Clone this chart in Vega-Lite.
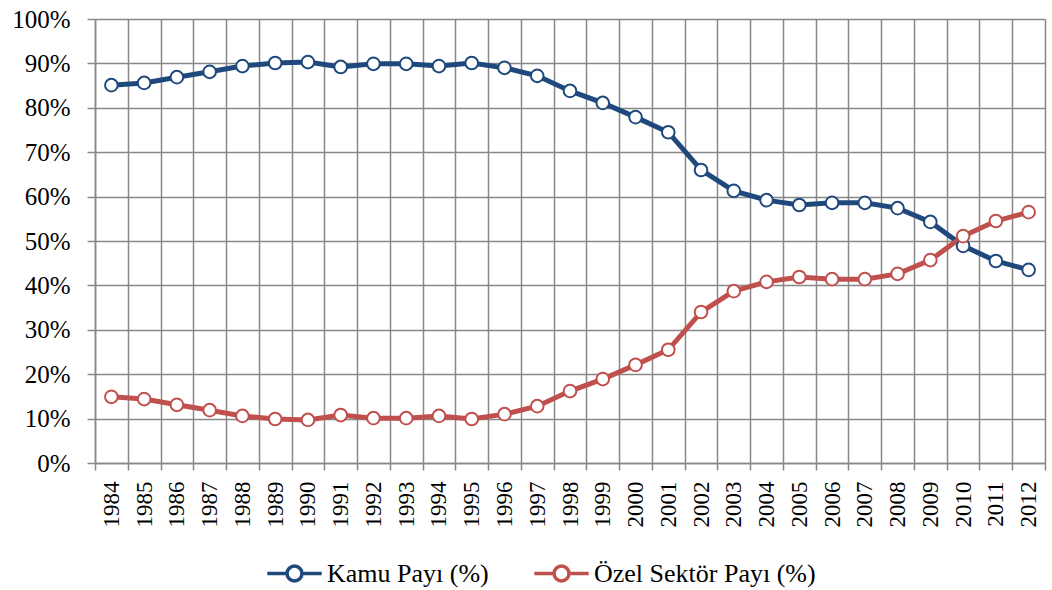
{
  "$schema": "https://vega.github.io/schema/vega-lite/v6.json",
  "autosize": {"type": "none"},
  "width": 950,
  "height": 444,
  "padding": {"left": 95, "top": 19, "right": 7, "bottom": 127},
  "background": "white",
  "config": {
    "font": "Liberation Serif, Times New Roman, serif",
    "view": {"stroke": null}
  },
  "data": {
    "values": [
      {"year": "1984", "series": "Kamu Payı (%)", "value": 85.1},
      {"year": "1985", "series": "Kamu Payı (%)", "value": 85.6},
      {"year": "1986", "series": "Kamu Payı (%)", "value": 86.9},
      {"year": "1987", "series": "Kamu Payı (%)", "value": 88.1},
      {"year": "1988", "series": "Kamu Payı (%)", "value": 89.4},
      {"year": "1989", "series": "Kamu Payı (%)", "value": 90.1},
      {"year": "1990", "series": "Kamu Payı (%)", "value": 90.3},
      {"year": "1991", "series": "Kamu Payı (%)", "value": 89.2},
      {"year": "1992", "series": "Kamu Payı (%)", "value": 89.9},
      {"year": "1993", "series": "Kamu Payı (%)", "value": 89.9},
      {"year": "1994", "series": "Kamu Payı (%)", "value": 89.4},
      {"year": "1995", "series": "Kamu Payı (%)", "value": 90.1},
      {"year": "1996", "series": "Kamu Payı (%)", "value": 89.0},
      {"year": "1997", "series": "Kamu Payı (%)", "value": 87.2},
      {"year": "1998", "series": "Kamu Payı (%)", "value": 83.8},
      {"year": "1999", "series": "Kamu Payı (%)", "value": 81.1},
      {"year": "2000", "series": "Kamu Payı (%)", "value": 77.9},
      {"year": "2001", "series": "Kamu Payı (%)", "value": 74.5},
      {"year": "2002", "series": "Kamu Payı (%)", "value": 66.0},
      {"year": "2003", "series": "Kamu Payı (%)", "value": 61.3},
      {"year": "2004", "series": "Kamu Payı (%)", "value": 59.2},
      {"year": "2005", "series": "Kamu Payı (%)", "value": 58.1},
      {"year": "2006", "series": "Kamu Payı (%)", "value": 58.6},
      {"year": "2007", "series": "Kamu Payı (%)", "value": 58.6},
      {"year": "2008", "series": "Kamu Payı (%)", "value": 57.4},
      {"year": "2009", "series": "Kamu Payı (%)", "value": 54.3},
      {"year": "2010", "series": "Kamu Payı (%)", "value": 48.9},
      {"year": "2011", "series": "Kamu Payı (%)", "value": 45.5},
      {"year": "2012", "series": "Kamu Payı (%)", "value": 43.5},
      {"year": "1984", "series": "Özel Sektör Payı (%)", "value": 14.9},
      {"year": "1985", "series": "Özel Sektör Payı (%)", "value": 14.4},
      {"year": "1986", "series": "Özel Sektör Payı (%)", "value": 13.1},
      {"year": "1987", "series": "Özel Sektör Payı (%)", "value": 11.9},
      {"year": "1988", "series": "Özel Sektör Payı (%)", "value": 10.6},
      {"year": "1989", "series": "Özel Sektör Payı (%)", "value": 9.9},
      {"year": "1990", "series": "Özel Sektör Payı (%)", "value": 9.7},
      {"year": "1991", "series": "Özel Sektör Payı (%)", "value": 10.8},
      {"year": "1992", "series": "Özel Sektör Payı (%)", "value": 10.1},
      {"year": "1993", "series": "Özel Sektör Payı (%)", "value": 10.1},
      {"year": "1994", "series": "Özel Sektör Payı (%)", "value": 10.6},
      {"year": "1995", "series": "Özel Sektör Payı (%)", "value": 9.9},
      {"year": "1996", "series": "Özel Sektör Payı (%)", "value": 11.0},
      {"year": "1997", "series": "Özel Sektör Payı (%)", "value": 12.8},
      {"year": "1998", "series": "Özel Sektör Payı (%)", "value": 16.2},
      {"year": "1999", "series": "Özel Sektör Payı (%)", "value": 18.9},
      {"year": "2000", "series": "Özel Sektör Payı (%)", "value": 22.1},
      {"year": "2001", "series": "Özel Sektör Payı (%)", "value": 25.5},
      {"year": "2002", "series": "Özel Sektör Payı (%)", "value": 34.0},
      {"year": "2003", "series": "Özel Sektör Payı (%)", "value": 38.7},
      {"year": "2004", "series": "Özel Sektör Payı (%)", "value": 40.8},
      {"year": "2005", "series": "Özel Sektör Payı (%)", "value": 41.9},
      {"year": "2006", "series": "Özel Sektör Payı (%)", "value": 41.4},
      {"year": "2007", "series": "Özel Sektör Payı (%)", "value": 41.4},
      {"year": "2008", "series": "Özel Sektör Payı (%)", "value": 42.6},
      {"year": "2009", "series": "Özel Sektör Payı (%)", "value": 45.7},
      {"year": "2010", "series": "Özel Sektör Payı (%)", "value": 51.1},
      {"year": "2011", "series": "Özel Sektör Payı (%)", "value": 54.5},
      {"year": "2012", "series": "Özel Sektör Payı (%)", "value": 56.5}
    ]
  },
  "encoding": {
    "x": {
      "field": "year",
      "type": "ordinal",
      "sort": null,
      "title": null,
      "scale": {"type": "band", "paddingInner": 0, "paddingOuter": 0},
      "axis": {
        "tickBand": "extent",
        "grid": true,
        "gridColor": "#888888",
        "gridWidth": 1.5,
        "domainColor": "#888888",
        "domainWidth": 1.5,
        "tickColor": "#888888",
        "tickWidth": 1.5,
        "tickSize": 7,
        "labelAngle": -90,
        "labelFontSize": 23,
        "labelColor": "black",
        "labelPadding": 11,
        "labelFont": "Liberation Serif, Times New Roman, serif"
      }
    },
    "y": {
      "field": "value",
      "type": "quantitative",
      "title": null,
      "scale": {"domain": [0, 100], "nice": false},
      "axis": {
        "values": [0, 10, 20, 30, 40, 50, 60, 70, 80, 90, 100],
        "labelExpr": "datum.value + '%'",
        "grid": true,
        "gridColor": "#888888",
        "gridWidth": 1.5,
        "domainColor": "#888888",
        "domainWidth": 1.5,
        "tickColor": "#888888",
        "tickWidth": 1.5,
        "tickSize": 8,
        "labelFontSize": 25,
        "labelColor": "black",
        "labelPadding": 17,
        "labelFont": "Liberation Serif, Times New Roman, serif"
      }
    },
    "color": {
      "field": "series",
      "type": "nominal",
      "scale": {
        "domain": ["Kamu Payı (%)", "Özel Sektör Payı (%)"],
        "range": ["#1F497D", "#C0504D"]
      },
      "legend": {
        "title": null,
        "orient": "none",
        "direction": "horizontal",
        "legendX": 184,
        "legendY": 539,
        "labelFontSize": 26,
        "labelFont": "Liberation Serif, Times New Roman, serif",
        "labelColor": "black",
        "labelLimit": 0,
        "symbolType": "M-2,0L-0.55,0M0.55,0A0.55,0.55 0 1,1 -0.55,0A0.55,0.55 0 1,1 0.55,0M0.55,0L2,0",
        "symbolSize": 740,
        "symbolStrokeWidth": 3.5,
        "symbolFillColor": "white",
        "columnPadding": 38,
        "labelOffset": 17
      }
    }
  },
  "layer": [
    {
      "mark": {"type": "line", "strokeWidth": 5}
    },
    {
      "mark": {"type": "point", "filled": false, "fill": "white", "fillOpacity": 1, "opacity": 1, "size": 160, "strokeWidth": 2}
    }
  ]
}
